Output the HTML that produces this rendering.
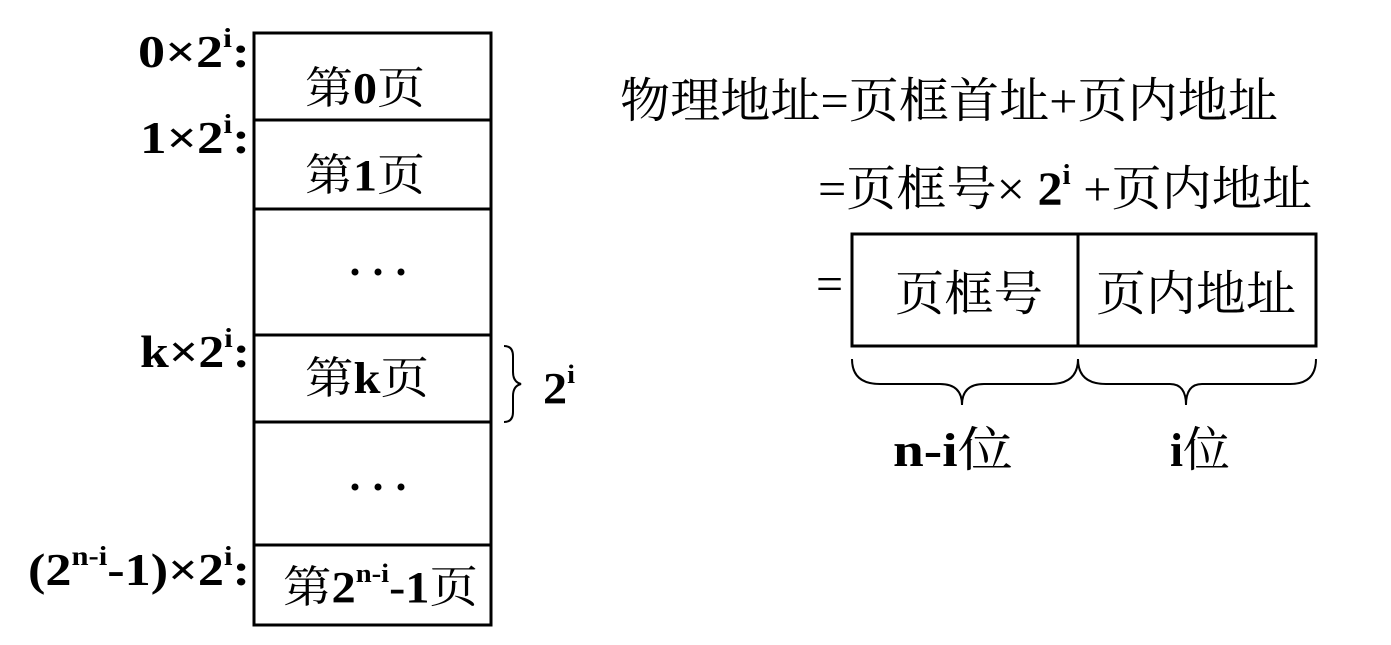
<!DOCTYPE html>
<html><head><meta charset="utf-8"><style>
html,body{margin:0;padding:0;background:#fff;}
svg{display:block}
text{font-family:"Liberation Serif","Noto Serif CJK SC",serif;fill:#000}
.b{font-weight:bold}
</style></head><body>
<svg width="1391" height="645" viewBox="0 0 1391 645" xmlns="http://www.w3.org/2000/svg">
<g stroke="#000" stroke-width="3" fill="none">
<rect x="254" y="33" width="237" height="592"/>
<line x1="254" y1="120" x2="491" y2="120"/>
<line x1="254" y1="209" x2="491" y2="209"/>
<line x1="254" y1="335" x2="491" y2="335"/>
<line x1="254" y1="422" x2="491" y2="422"/>
<line x1="254" y1="545" x2="491" y2="545"/>
<rect x="852" y="234" width="464" height="112"/>
<line x1="1078" y1="234" x2="1078" y2="346"/>
</g>
<g stroke="#000" stroke-width="2" fill="none">
<path d="M504 346 Q513 346 513 356 L513 372 Q513 382 521 384 Q513 386 513 396 L513 412 Q513 422 504 422"/>
<path d="M852 359 Q852 384 880 384 L940 384 Q962 384 962 405 Q962 384 984 384 L1050 384 Q1078 384 1078 359"/>
<path d="M1078 359 Q1078 384 1106 384 L1170 384 Q1186 384 1186 405 Q1186 384 1202 384 L1290 384 Q1316 384 1316 359"/>
</g>
<g class="b" font-size="46">
<text x="138" y="67" textLength="112" lengthAdjust="spacingAndGlyphs">0×2<tspan font-size="27" dy="-20">i</tspan><tspan dy="20">:</tspan></text>
<text x="140" y="153" textLength="110" lengthAdjust="spacingAndGlyphs">1×2<tspan font-size="27" dy="-20">i</tspan><tspan dy="20">:</tspan></text>
<text x="140" y="367" textLength="110" lengthAdjust="spacingAndGlyphs">k×2<tspan font-size="27" dy="-20">i</tspan><tspan dy="20">:</tspan></text>
<text x="28" y="585" textLength="222" lengthAdjust="spacingAndGlyphs">(2<tspan font-size="27" dy="-20">n-i</tspan><tspan dy="20">-1)×2</tspan><tspan font-size="27" dy="-20">i</tspan><tspan dy="20">:</tspan></text>
</g>
<g font-size="44">
<text x="305" y="103" textLength="120" lengthAdjust="spacingAndGlyphs">第<tspan class="b">0</tspan>页</text>
<text x="305" y="190" textLength="120" lengthAdjust="spacingAndGlyphs">第<tspan class="b">1</tspan>页</text>
<text x="305" y="393" textLength="124" lengthAdjust="spacingAndGlyphs">第<tspan class="b">k</tspan>页</text>
<text x="283" y="602" textLength="195" lengthAdjust="spacingAndGlyphs">第<tspan class="b">2</tspan><tspan class="b" font-size="26" dy="-20">n-i</tspan><tspan class="b" dy="20">-1</tspan>页</text>
</g>
<g fill="#000">
<circle cx="355" cy="272" r="3.5"/><circle cx="378" cy="272" r="3.5"/><circle cx="401" cy="272" r="3.5"/>
<circle cx="355" cy="487" r="3.5"/><circle cx="378" cy="487" r="3.5"/><circle cx="401" cy="487" r="3.5"/>
</g>
<text x="543" y="403" class="b" font-size="44" textLength="32" lengthAdjust="spacingAndGlyphs">2<tspan font-size="26" dy="-20">i</tspan></text>
<text x="620" y="117" font-size="48" textLength="658" lengthAdjust="spacingAndGlyphs">物理地址=页框首址+页内地址</text>
<text x="818" y="205" font-size="48" textLength="494" lengthAdjust="spacingAndGlyphs">=页框号× <tspan class="b">2</tspan><tspan class="b" font-size="28" dy="-21">i</tspan><tspan dy="21"> +页内地址</tspan></text>
<text x="816" y="300" font-size="48">=</text>
<text x="895" y="310" font-size="48" textLength="148" lengthAdjust="spacingAndGlyphs">页框号</text>
<text x="1096" y="310" font-size="48" textLength="200" lengthAdjust="spacingAndGlyphs">页内地址</text>
<text x="893" y="466" font-size="48" textLength="120" lengthAdjust="spacingAndGlyphs"><tspan class="b">n-i</tspan>位</text>
<text x="1170" y="466" font-size="48" textLength="60" lengthAdjust="spacingAndGlyphs"><tspan class="b">i</tspan>位</text>
</svg>
</body></html>
